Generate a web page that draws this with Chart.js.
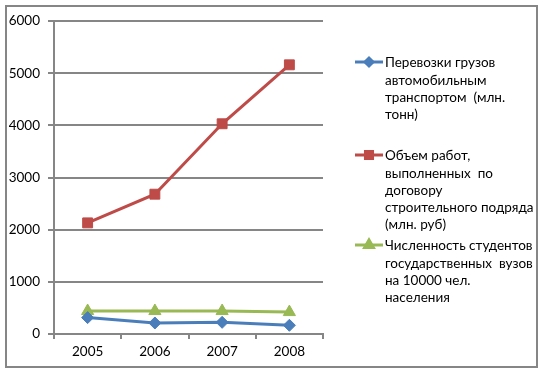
<!DOCTYPE html>
<html>
<head>
<meta charset="utf-8">
<script src="https://cdn.jsdelivr.net/npm/chart.js@4"></script>
<style>
  html, body { margin: 0; padding: 0; background: #fff; }
  #wrap { width: 544px; height: 373px; }
</style>
</head>
<body>
<div id="wrap"><canvas id="chart" width="544" height="373"></canvas></div>
<script>
// --- Data ---
const years = ['2005', '2006', '2007', '2008'];
const freightValues = [314, 211, 224, 167];
const constructionValues = [2130, 2680, 4030, 5160];
const studentValues = [440, 440, 440, 420];
const yTicks = [0, 1000, 2000, 3000, 4000, 5000, 6000];

const seriesLabels = [
  'Перевозки грузов\nавтомобильным\nтранспортом  (млн.\nтонн)',
  'Объем работ,\nвыполненных  по\nдоговору\nстроительного подряда\n(млн. руб)',
  'Численность студентов\nгосударственных  вузов\nна 10000 чел.\nнаселения',
];

const FONT = 'Lato, "Open Sans", sans-serif';
const GRID = '#868686';

// Frame + legend drawn on the canvas
const frameLegend = {
  id: 'frameLegend',
  beforeDraw(chart) {
    const ctx = chart.ctx;
    ctx.save();
    ctx.fillStyle = '#fff';
    ctx.fillRect(0, 0, chart.width, chart.height);
    ctx.strokeStyle = GRID;
    ctx.lineWidth = 2;
    ctx.strokeRect(6, 6, 531, 361);
    ctx.restore();
  },
  afterDraw(chart) {
    const ctx = chart.ctx;
    const tops = [62, 155, 245];
    ctx.save();
    chart.data.datasets.forEach((ds, i) => {
      const y = tops[i];
      ctx.strokeStyle = ds.borderColor;
      ctx.lineWidth = 3;
      ctx.beginPath();
      ctx.moveTo(355, y);
      ctx.lineTo(383, y);
      ctx.stroke();
      ctx.fillStyle = ds.borderColor;
      Chart.helpers.drawPoint(ctx, {
        pointStyle: ds.pointStyle, radius: ds.pointRadius - 2, rotation: 0, borderWidth: 1
      }, 369, y);
      ctx.fillStyle = '#000';
      ctx.font = '13.5px ' + FONT;
      ctx.textBaseline = 'middle';
      ctx.textAlign = 'left';
      ds.label.split('\n').forEach((line, j) => {
        ctx.fillText(line, 385, y + 1 + j * 17.2);
      });
    });
    ctx.restore();
  }
};

const mkSet = (label, data, color, style, r) => ({
  label, data,
  borderColor: color,
  backgroundColor: color,
  pointBackgroundColor: color,
  pointBorderColor: color,
  borderWidth: 3,
  pointStyle: style,
  pointRadius: r,
  pointHoverRadius: r,
  pointBorderWidth: 1,
  tension: 0,
});

new Chart(document.getElementById('chart'), {
  type: 'line',
  data: {
    labels: years,
    datasets: [
      mkSet(seriesLabels[0], freightValues, '#4A7EBB', 'rectRot', 6),
      mkSet(seriesLabels[1], constructionValues, '#BE4B48', 'rect', 7),
      mkSet(seriesLabels[2], studentValues, '#98B954', 'triangle', 7),
    ],
  },
  options: {
    responsive: false,
    animation: false,
    layout: { padding: { left: 0, top: 21, right: 221, bottom: 0 } },
    plugins: {
      legend: { display: false },
      tooltip: { enabled: false },
    },
    scales: {
      x: {
        offset: true,
        grid: {
          offset: true,
          drawOnChartArea: false,
          drawTicks: true,
          tickLength: 5,
          color: GRID,
          lineWidth: 2,
        },
        border: { display: true, color: GRID, width: 2 },
        ticks: { color: '#000', font: { family: FONT, size: 13.5 }, padding: 5 },
        afterFit: (s) => { s.height = 39; },
      },
      y: {
        min: 0,
        max: 6000,
        afterBuildTicks: (s) => { s.ticks = yTicks.map(v => ({ value: v })); },
        grid: { color: GRID, lineWidth: 2, tickLength: 6 },
        border: { display: true, color: GRID, width: 2 },
        ticks: {
          color: '#000',
          font: { family: FONT, size: 13.5 },
          padding: 8,
          callback: (v) => String(v),
        },
        afterFit: (s) => { s.width = 54; },
      },
    },
  },
  plugins: [frameLegend],
});
</script>
</body>
</html>
